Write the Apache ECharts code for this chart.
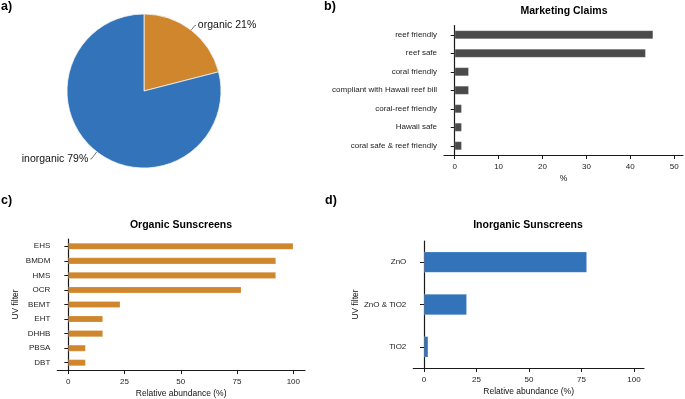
<!DOCTYPE html>
<html>
<head>
<meta charset="utf-8">
<script src="https://cdn.jsdelivr.net/npm/echarts@6/dist/echarts.min.js"></script>
<style>
  html, body { margin: 0; padding: 0; background: #fff; }
  #chart { width: 685px; height: 399px; }
</style>
</head>
<body>
<div id="chart"></div>
<script>
// a) share of sunscreen types
const pieNames = ['organic', 'inorganic'];
const pieValues = [21, 79];

// b) marketing claims (%)
const claimNames = ['reef friendly', 'reef safe', 'coral friendly', 'compliant with Hawaii reef bill',
    'coral-reef friendly', 'Hawaii safe', 'coral safe & reef friendly'];
const claimValues = [45.2, 43.5, 3.2, 3.2, 1.6, 1.6, 1.6];
const claimTicks = [0, 10, 20, 30, 40, 50];

// c) organic UV filters
const organicNames = ['EHS', 'BMDM', 'HMS', 'OCR', 'BEMT', 'EHT', 'DHHB', 'PBSA', 'DBT'];
const organicValues = [100, 92.3, 92.3, 76.9, 23.1, 15.4, 15.4, 7.7, 7.7];

// d) inorganic UV filters
const inorganicNames = ['ZnO', 'ZnO & TiO2', 'TiO2'];
const inorganicValues = [77.6, 20.4, 2.0];

const abundanceTicks = [0, 25, 50, 75, 100];

const BLUE = '#3273ba';
const ORANGE = '#cf862c';
const GRAY = '#4a4a4a';
const FONT = 'Liberation Sans, Arial, sans-serif';

const chart = echarts.init(document.getElementById('chart'), null, { renderer: 'canvas' });

const axisLine = { show: true, lineStyle: { color: '#1a1a1a', width: 1.2 } };
const axisTick = { show: true, length: 4, lineStyle: { color: '#1a1a1a', width: 1 } };
const tickLabel = { color: '#222', fontSize: 8, fontFamily: FONT };

function valueAxis(gridIndex, min, max, ticks, name) {
    return {
        type: 'value', gridIndex, min, max,
        axisLine, splitLine: { show: false },
        axisTick: { ...axisTick, customValues: ticks },
        axisLabel: { ...tickLabel, margin: 8, customValues: ticks },
        name, nameLocation: 'middle', nameGap: 19,
        nameTextStyle: { color: '#111', fontSize: 8.5, fontFamily: FONT }
    };
}

function catAxis(gridIndex, data, name, nameGap) {
    return {
        type: 'category', gridIndex, data, inverse: true,
        axisLine, axisTick: { ...axisTick, alignWithLabel: true },
        axisLabel: { ...tickLabel, margin: 7 },
        name, nameLocation: 'middle', nameGap: nameGap || 0,
        nameTextStyle: { color: '#111', fontSize: 8.5, fontFamily: FONT }
    };
}

function barSeries(idx, data, color, width) {
    return {
        type: 'bar', xAxisIndex: idx, yAxisIndex: idx, data,
        barWidth: width, silent: true,
        itemStyle: { color, borderColor: 'rgba(255,255,255,0.35)', borderWidth: 0.6 }
    };
}

const option = {
    backgroundColor: '#fff',
    animation: false,
    textStyle: { fontFamily: FONT },
    grid: [
        { left: 444, top: 25.5, width: 239, height: 129.5 },
        { left: 57.3, top: 239, width: 247.7, height: 131 },
        { left: 413.3, top: 241, width: 230.7, height: 127 }
    ],
    xAxis: [
        valueAxis(0, -2.44, 52, claimTicks, '%'),
        valueAxis(1, -4.9, 105.2, abundanceTicks, 'Relative abundance (%)'),
        valueAxis(2, -5.1, 104.8, abundanceTicks, 'Relative abundance (%)')
    ],
    yAxis: [
        catAxis(0, claimNames),
        catAxis(1, organicNames, 'UV filter', 37),
        catAxis(2, inorganicNames, 'UV filter', 53)
    ],
    series: [
        {
            type: 'pie',
            center: [144, 91],
            radius: 77,
            startAngle: 90,
            silent: true,
            data: pieNames.map((n, i) => ({
                name: n, value: pieValues[i],
                itemStyle: { color: i === 0 ? ORANGE : BLUE },
                labelLine: i === 0 ? { length: 6, length2: 1 } : { length: 9, length2: 1 }
            })),
            itemStyle: { borderColor: '#f4f4f4', borderWidth: 0.8 },
            label: {
                show: true, position: 'outside', distanceToLabelLine: 2,
                formatter: p => p.name + ' ' + p.value + '%',
                color: '#111', fontSize: 10.5, fontFamily: FONT
            },
            labelLine: { show: true, lineStyle: { color: '#555', width: 0.8 } }
        },
        barSeries(0, claimValues, GRAY, 8.7),
        barSeries(1, organicValues, ORANGE, 6.7),
        barSeries(2, inorganicValues, BLUE, 21)
    ],
    graphic: [
        { type: 'text', left: 1, top: 0, style: { text: 'a)', font: 'bold 12.5px ' + FONT, fill: '#000' } },
        { type: 'text', left: 324, top: 0, style: { text: 'b)', font: 'bold 12.5px ' + FONT, fill: '#000' } },
        { type: 'text', left: 1, top: 194, style: { text: 'c)', font: 'bold 12.5px ' + FONT, fill: '#000' } },
        { type: 'text', left: 325, top: 194, style: { text: 'd)', font: 'bold 12.5px ' + FONT, fill: '#000' } },
        { type: 'text', x: 564, y: 11, style: { text: 'Marketing Claims', font: 'bold 10.5px ' + FONT, fill: '#000', align: 'center', verticalAlign: 'middle' } },
        { type: 'text', x: 181, y: 225, style: { text: 'Organic Sunscreens', font: 'bold 10.5px ' + FONT, fill: '#000', align: 'center', verticalAlign: 'middle' } },
        { type: 'text', x: 528, y: 225, style: { text: 'Inorganic Sunscreens', font: 'bold 10.5px ' + FONT, fill: '#000', align: 'center', verticalAlign: 'middle' } }
    ]
};

chart.setOption(option);
</script>
</body>
</html>
